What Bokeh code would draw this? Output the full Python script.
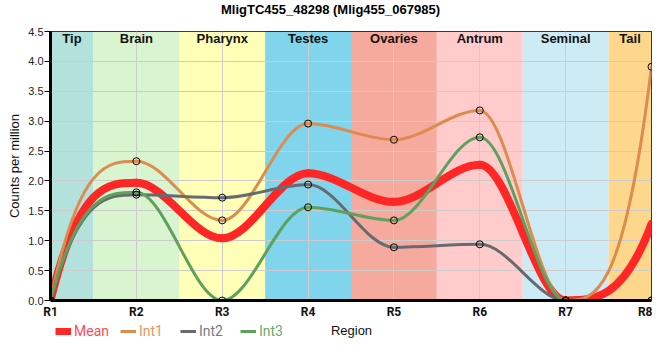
from bokeh.plotting import figure
from bokeh.layouts import column
from bokeh.models import (FixedTicker, Legend, LegendItem, Range1d, PrintfTickFormatter, Label)
from bokeh.core.properties import value
from bokeh.embed import file_html
from bokeh.resources import INLINE

# ---------------- data ----------------
regions = ["R1", "R2", "R3", "R4", "R5", "R6", "R7", "R8"]
tissues = ["Tip", "Brain", "Pharynx", "Testes", "Ovaries", "Antrum", "Seminal", "Tail"]
tissue_colors = ["#b3e2dc", "#d8f5cf", "#ffffb8", "#80d4eb", "#f5aa9d", "#ffcbcb", "#cdebf5", "#fdd78b"]
mean_vals = [0.0, 1.97, 1.04, 2.13, 1.65, 2.27, 0.0, 1.28]
int1_vals = [0.0, 2.33, 1.34, 2.96, 2.69, 3.18, 0.0, 3.91]
int2_vals = [0.0, 1.77, 1.72, 1.94, 0.89, 0.94, 0.0, 0.0]
int3_vals = [0.0, 1.81, 0.0, 1.56, 1.34, 2.73, 0.0, 0.0]
y_ticks = [0.0, 0.5, 1.0, 1.5, 2.0, 2.5, 3.0, 3.5, 4.0, 4.5]
title_text = "MligTC455_48298 (Mlig455_067985)"
x_label = "Region"
y_label = "Counts per million"

xs = list(range(1, len(regions) + 1))
y_max = y_ticks[-1]


def spline_segments(x, y):
    """Cubic bezier pieces: flat tangents at extrema, endpoints aim at neighbour level."""
    n = len(x)
    m = [0.0] * n
    for i in range(1, n - 1):
        h0 = x[i] - x[i - 1]
        h1 = x[i + 1] - x[i]
        s0 = (y[i] - y[i - 1]) / h0
        s1 = (y[i + 1] - y[i]) / h1
        if s0 * s1 <= 0:
            m[i] = 0.0
        else:
            p = (s0 * h1 + s1 * h0) / (h0 + h1)
            sg = 1 if s0 > 0 else -1
            m[i] = sg * min(abs(s0), abs(s1), 0.5 * abs(p)) * 2
    m[0] = 3 * (y[1] - y[0]) / (x[1] - x[0])
    m[n - 1] = 3 * (y[n - 1] - y[n - 2]) / (x[n - 1] - x[n - 2])
    seg = dict(x0=[], y0=[], x1=[], y1=[], cx0=[], cy0=[], cx1=[], cy1=[])
    for i in range(n - 1):
        h = x[i + 1] - x[i]
        seg["x0"].append(x[i]); seg["y0"].append(y[i])
        seg["x1"].append(x[i + 1]); seg["y1"].append(y[i + 1])
        seg["cx0"].append(x[i] + h / 3); seg["cy0"].append(y[i] + m[i] * h / 3)
        seg["cx1"].append(x[i + 1] - h / 3); seg["cy1"].append(y[i + 1] - m[i + 1] * h / 3)
    return seg


def strip_figure(height):
    f = figure(width=W, height=height, output_backend="svg", toolbar_location=None,
               x_range=Range1d(BL, W - BR), y_range=Range1d(0, height),
               min_border_left=BL, min_border_right=BR, min_border_top=0, min_border_bottom=0,
               x_axis_location=None, y_axis_location=None,
               background_fill_color="white", border_fill_color="white")
    f.outline_line_color = None
    f.grid.visible = False
    return f


W = 652
BL, BR = 50, 1
TH = 24            # title strip
MH = 297           # main chart (page rows 24..321)
SH = 352 - TH - MH  # legend strip

# ---------------- title strip ----------------
top = strip_figure(TH)
top.add_layout(Label(x=330, y=TH - 9, text=title_text, text_align="center",
                     text_baseline="middle", text_font="Liberation Sans",
                     text_font_style="bold", text_font_size="13px", text_color="#000000"))

# ---------------- main chart ----------------
p = figure(width=W, height=MH, output_backend="svg", toolbar_location=None,
           x_range=Range1d(xs[0], xs[-1]), y_range=Range1d(0, y_max),
           min_border_left=BL, min_border_right=BR, min_border_top=31 - TH, min_border_bottom=21,
           background_fill_color="white", border_fill_color="white")

lefts = [max(x - 0.5, xs[0]) for x in xs]
rights = [min(x + 0.5, xs[-1]) for x in xs]
bands = p.quad(left=lefts, right=rights, bottom=0, top=y_max,
               fill_color=tissue_colors, line_color=None)
bands.level = "image"

centers = [(l + r) / 2 for l, r in zip(lefts, rights)]
p.text(x=centers, y=[y_max] * len(centers), text=tissues, text_align="center",
       text_baseline="top", y_offset=-1, text_font=value("Liberation Sans"),
       text_font_style="bold", text_font_size="13px", text_color="#111111")

series = [
    ("Mean", mean_vals, "#ff2626", 8, "#ff4b55", False),
    ("Int1", int1_vals, "#dc8c4e", 3, "#e8965c", True),
    ("Int2", int2_vals, "#676b70", 3, "#7a7a86", True),
    ("Int3", int3_vals, "#5ea15e", 3, "#6aab6a", True),
]

for name, vals, col, lw, tcol, markers in series:
    seg = spline_segments(xs, vals)
    p.bezier(x0=seg["x0"], y0=seg["y0"], x1=seg["x1"], y1=seg["y1"],
             cx0=seg["cx0"], cy0=seg["cy0"], cx1=seg["cx1"], cy1=seg["cy1"],
             line_color=col, line_width=lw, line_cap="round")

for name, vals, col, lw, tcol, markers in series:
    if markers:
        p.scatter(xs, vals, marker="circle", size=7, fill_alpha=0,
                  line_color="#000000", line_width=1)

p.xaxis.ticker = FixedTicker(ticks=xs)
p.xaxis.major_label_overrides = {x: r for x, r in zip(xs, regions)}
p.xaxis.major_tick_out = 0
p.xaxis.major_tick_in = 0
p.xaxis.minor_tick_line_color = None
p.xaxis.major_label_standoff = 4
p.xaxis.major_label_text_font = "Roboto"
p.xaxis.major_label_text_font_style = "bold"
p.xaxis.major_label_text_font_size = "12px"
p.xaxis.major_label_text_color = "#111111"

p.yaxis.ticker = FixedTicker(ticks=y_ticks)
p.yaxis.formatter = PrintfTickFormatter(format="%.1f")
p.yaxis.major_tick_out = 6
p.yaxis.major_tick_in = 0
p.yaxis.minor_tick_line_color = None
p.yaxis.major_label_standoff = 1
p.yaxis.major_label_text_font = "Liberation Sans"
p.yaxis.major_label_text_font_size = "11px"
p.yaxis.major_label_text_color = "#222222"
p.yaxis.axis_label = y_label
p.yaxis.axis_label_text_font = "Liberation Sans"
p.yaxis.axis_label_text_font_style = "normal"
p.yaxis.axis_label_text_font_size = "13px"
p.yaxis.axis_label_text_color = "#111111"
p.yaxis.axis_label_standoff = 3

for ax in (p.xaxis, p.yaxis):
    ax.axis_line_color = "#000000"
    ax.axis_line_width = 3
    ax.major_tick_line_color = "#000000"

p.xgrid.ticker = FixedTicker(ticks=xs)
p.ygrid.ticker = FixedTicker(ticks=y_ticks)
p.xgrid.grid_line_color = "#cccccc"
p.ygrid.grid_line_color = "#cccccc"

p.outline_line_color = "#000000"
p.outline_line_width = 1

# ---------------- legend strip (colored labels) + x-axis title ----------------
strip = strip_figure(SH)
legend_x = [5, 70, 130, 190]
nan = float("nan")
for (name, vals, col, lw, tcol, markers), lx in zip(series, legend_x):
    proxy = strip.line(x=[nan], y=[nan], line_color=col, line_width=(7 if lw > 3 else 3))
    lg = Legend(items=[LegendItem(label=name, renderers=[proxy])], location=(lx, SH - 11 - 7),
                orientation="horizontal", label_text_color=tcol,
                label_text_font="Roboto", label_text_font_size="14px",
                glyph_width=16, glyph_height=14, label_height=14, label_standoff=3,
                padding=0, margin=0, spacing=0, border_line_color=None,
                background_fill_alpha=0)
    strip.add_layout(lg, "center")

strip.add_layout(Label(x=351, y=SH - 9, text=x_label, text_align="center",
                       text_baseline="middle", text_font="Liberation Sans",
                       text_font_size="13px", text_color="#111111"))

layout = column(top, p, strip, spacing=0)
open("out.html", "w").write(file_html(layout, INLINE))
